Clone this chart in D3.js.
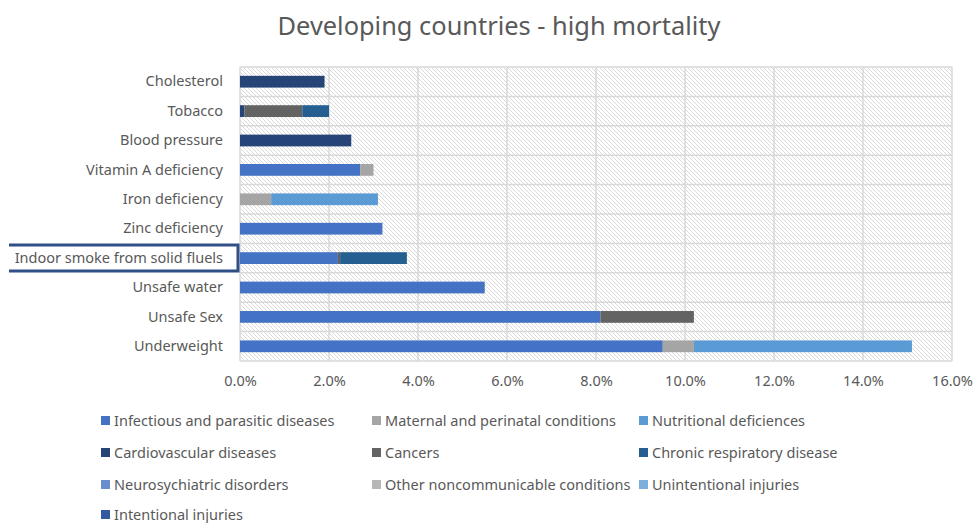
<!DOCTYPE html>
<html>
<head>
<meta charset="utf-8">
<script src="https://cdn.jsdelivr.net/npm/d3@7"></script>
<style>
  body { margin: 0; background: #fff; }
  svg { font-family: "Noto Sans", "Open Sans", sans-serif; }
</style>
</head>
<body>
<svg id="chart" width="976" height="523"></svg>
<script>
// DATA -----------------------------------------------------------
const categories = ["Cholesterol", "Tobacco", "Blood pressure", "Vitamin A deficiency", "Iron deficiency",
  "Zinc deficiency", "Indoor smoke from solid fluels", "Unsafe water", "Unsafe Sex", "Underweight"]

const seriesNames = ["Infectious and parasitic diseases", "Maternal and perinatal conditions", "Nutritional deficiences",
  "Cardiovascular diseases", "Cancers", "Chronic respiratory disease",
  "Neurosychiatric disorders", "Other noncommunicable conditions", "Unintentional injuries",
  "Intentional injuries"]

const seriesColors = ["#4472c4", "#a5a5a5", "#5b9bd5", "#264478", "#636363", "#255e91",
  "#698ed0", "#b7b7b7", "#7cafdd", "#335aa1"]

// percent values, same order as categories
const infectious     = [0, 0, 0, 2.7, 0, 3.2, 2.2, 5.5, 8.1, 9.5]
const maternal       = [0, 0, 0, 0.3, 0.7, 0, 0, 0, 0, 0.7]
const nutritional    = [0, 0, 0, 0, 2.4, 0, 0, 0, 0, 4.9]
const cardiovascular = [1.9, 0.1, 2.5, 0, 0, 0, 0, 0, 0, 0]
const cancers        = [0, 1.3, 0, 0, 0, 0, 0.05, 0, 2.1, 0]
const respiratory    = [0, 0.6, 0, 0, 0, 0, 1.5, 0, 0, 0]
const neuro          = [0, 0, 0, 0, 0, 0, 0, 0, 0, 0]
const otherNonComm   = [0, 0, 0, 0, 0, 0, 0, 0, 0, 0]
const unintentional  = [0, 0, 0, 0, 0, 0, 0, 0, 0, 0]
const intentional    = [0, 0, 0, 0, 0, 0, 0, 0, 0, 0]

const seriesValues = [infectious, maternal, nutritional, cardiovascular, cancers, respiratory,
  neuro, otherNonComm, unintentional, intentional]

const xTicks = [0, 0.02, 0.04, 0.06, 0.08, 0.10, 0.12, 0.14, 0.16]
const highlighted = "Indoor smoke from solid fluels"

// build rows for d3.stack
const rows = categories.map((c, i) => {
  let entry = { category: c }
  seriesNames.forEach((s, j) => { entry[s] = seriesValues[j][i] / 100 })
  return entry
})

const stacked = d3.stack().keys(seriesNames)(rows)

// SETUP -----------------------------------------------------------
const textColor = "#595959"
const gridColor = "#d9d9d9"
const fontFamily = `"Noto Sans", "Open Sans", sans-serif`
const labelSize = "14.5px"

const svg = d3.select("#chart")

const xScale = d3.scaleLinear()
  .domain([0, 0.16])
  .range([240, 952])

const yScale = d3.scaleBand()
  .domain(categories)
  .range([67, 361])
  .paddingInner(0.6)
  .paddingOuter(0.3)

const color = d3.scaleOrdinal().domain(seriesNames).range(seriesColors)

// hatch pattern for plot background
const defs = svg.append("defs")
const pattern = defs.append("pattern")
  .attr("id", "hatch")
  .attr("patternUnits", "userSpaceOnUse")
  .attr("width", 4)
  .attr("height", 4)
pattern.append("rect").attr("width", 4).attr("height", 4).attr("fill", "#fff")
pattern.append("path")
  .attr("d", "M0,0 L4,4 M-1,3 L1,5 M3,-1 L5,1")
  .attr("stroke", "#d6d6d6")
  .attr("stroke-width", 0.9)

// TITLE -----------------------------------------------------------
svg.append("text")
  .attr("x", 499)
  .attr("y", 35)
  .attr("text-anchor", "middle")
  .attr("fill", textColor)
  .style("font-size", "25.4px")
  .text("Developing countries - high mortality")

// PLOT AREA -----------------------------------------------------------
const plot = svg.append("g")
const [x0, x1] = xScale.range()
const [y0, y1] = yScale.range()

plot.append("rect")
  .attr("x", x0).attr("y", y0)
  .attr("width", x1 - x0).attr("height", y1 - y0)
  .attr("fill", "url(#hatch)")

// vertical gridlines
plot.selectAll(".vgrid")
  .data(xTicks)
  .join("line")
  .attr("class", "vgrid")
  .attr("x1", d => xScale(d)).attr("x2", d => xScale(d))
  .attr("y1", y0).attr("y2", y1)
  .attr("stroke", gridColor)
  .attr("stroke-width", 1.5)

// horizontal row lines
const step = yScale.step()
const rowEdges = d3.range(categories.length + 1).map(i => y0 + i * step)
plot.selectAll(".hgrid")
  .data(rowEdges)
  .join("line")
  .attr("class", "hgrid")
  .attr("x1", x0).attr("x2", x1)
  .attr("y1", d => d).attr("y2", d => d)
  .attr("stroke", gridColor)
  .attr("stroke-width", 1.5)

// BARS -----------------------------------------------------------
plot.selectAll(".series")
  .data(stacked)
  .join("g")
  .attr("class", "series")
  .attr("fill", d => color(d.key))
  .selectAll("rect")
  .data(d => d.filter(p => p[1] - p[0] > 0))
  .join("rect")
  .attr("x", d => xScale(d[0]))
  .attr("y", d => yScale(d.data.category))
  .attr("width", d => xScale(d[1]) - xScale(d[0]))
  .attr("height", yScale.bandwidth())

// AXES -----------------------------------------------------------
const xAxis = svg.append("g")
  .attr("transform", `translate(0, ${y1})`)
  .call(d3.axisBottom(xScale).tickValues(xTicks).tickSize(0).tickPadding(15).tickFormat(d3.format(".1%")))
  .attr("font-family", fontFamily)
  .attr("font-size", labelSize)
xAxis.select(".domain").remove()
xAxis.selectAll("text").attr("fill", textColor)

const yAxis = svg.append("g")
  .attr("transform", `translate(${x0}, 0)`)
  .call(d3.axisLeft(yScale).tickSize(0).tickPadding(17))
  .attr("font-family", fontFamily)
  .attr("font-size", labelSize)
yAxis.select(".domain").remove()
yAxis.selectAll("text").attr("fill", textColor)

// highlight box around one category label
const hy = yScale(highlighted) + yScale.bandwidth() / 2
svg.append("path")
  .attr("d", `M9,${hy - 13} L238,${hy - 13} L238,${hy + 13} L9,${hy + 13}`)
  .attr("fill", "none")
  .attr("stroke", "#2f4f86")
  .attr("stroke-width", 3)

// LEGEND -----------------------------------------------------------
const legendCols = [101, 372, 639]
const legendRows = [421, 453, 485, 515]

const legend = svg.append("g")
  .selectAll("g")
  .data(seriesNames)
  .join("g")
  .attr("transform", (d, i) => `translate(${legendCols[i % 3]}, ${legendRows[Math.floor(i / 3)]})`)

legend.append("rect")
  .attr("x", 0).attr("y", -5)
  .attr("width", 9).attr("height", 9)
  .attr("fill", d => color(d))

legend.append("text")
  .attr("x", 13)
  .attr("y", 0)
  .attr("dy", "0.35em")
  .attr("fill", textColor)
  .style("font-size", labelSize)
  .text(d => d)
</script>
</body>
</html>
